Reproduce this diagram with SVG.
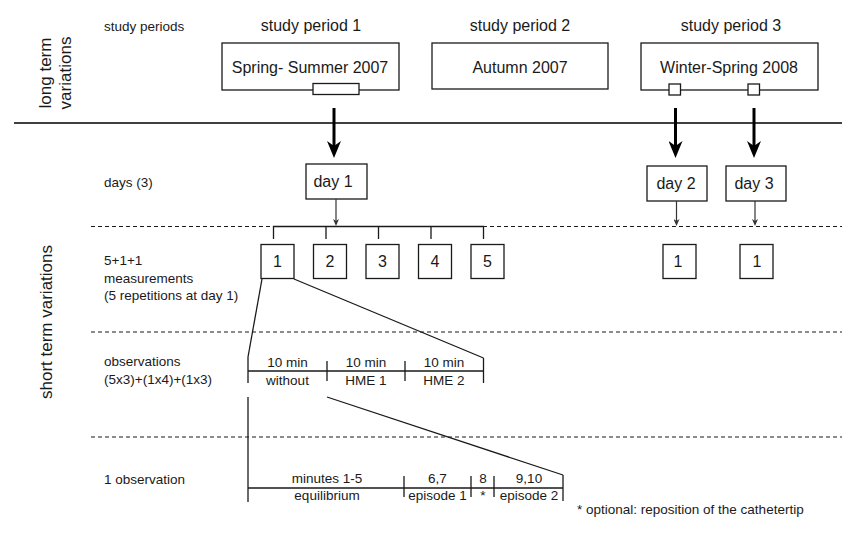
<svg xmlns="http://www.w3.org/2000/svg" width="842" height="533" viewBox="0 0 842 533">
<style>
text{font-family:"Liberation Sans",Arial,sans-serif;fill:#1a1a1a}
.lbl{font-size:13.5px}
.big{font-size:16px}
.side{font-size:17px;text-anchor:middle}
.mid{text-anchor:middle}
.box{fill:#fff;stroke:#1a1a1a;stroke-width:1.3}
.ln{stroke:#1a1a1a;stroke-width:1.3;fill:none}
.dash{stroke:#1a1a1a;stroke-width:1.2;stroke-dasharray:4 3;fill:none}
.thick{stroke:#000;stroke-width:3;fill:none}
.thin{stroke:#333;stroke-width:1.2;fill:none}
</style>
<defs>
<marker id="bigArrow" viewBox="0 0 17 14" refX="9" refY="7" markerWidth="17" markerHeight="14" markerUnits="userSpaceOnUse" orient="auto">
<path d="M0,0 L5,7 L0,14 L17,7 Z" fill="#000"/>
</marker>
<marker id="smallArrow" viewBox="0 0 7 6" refX="4" refY="3" markerWidth="7" markerHeight="6" markerUnits="userSpaceOnUse" orient="auto">
<path d="M0,0 L2,3 L0,6 L7,3 Z" fill="#333"/>
</marker>
</defs>

<!-- side labels -->
<g id="side-labels">
<text class="side" transform="translate(51,73) rotate(-90)">long term</text>
<text class="side" transform="translate(71,73) rotate(-90)">variations</text>
<text class="side" transform="translate(52,322) rotate(-90)">short term variations</text>
</g>

<g id="row-labels">
<text class="lbl" x="104" y="31">study periods</text>
<text class="lbl" x="104" y="187">days (3)</text>
<text class="lbl" x="104" y="265">5+1+1</text>
<text class="lbl" x="104" y="283">measurements</text>
<text class="lbl" x="104" y="300">(5 repetitions at day 1)</text>
<text class="lbl" x="104" y="366">observations</text>
<text class="lbl" x="104" y="384">(5x3)+(1x4)+(1x3)</text>
<text class="lbl" x="104" y="484">1 observation</text>
<text class="lbl" x="577" y="514">* optional: reposition of the cathetertip</text>
</g>

<!-- separators -->
<g id="separators">
<line x1="14" y1="123" x2="842" y2="123" stroke="#000" stroke-width="1.6"/>
<line class="dash" x1="91" y1="226.5" x2="842" y2="226.5"/>
<line class="dash" x1="91" y1="332" x2="842" y2="332"/>
<line class="dash" x1="91" y1="437" x2="842" y2="437"/>
</g>

<!-- study periods -->
<g id="period1">
<text class="big mid" x="311" y="31">study period 1</text>
<rect class="box" x="222" y="43" width="177" height="47"/>
<text class="big mid" x="310" y="73">Spring- Summer 2007</text>
<rect class="box" x="313" y="83.5" width="46" height="11"/>
</g>
<g id="period2">
<text class="big mid" x="520" y="31">study period 2</text>
<rect class="box" x="432" y="43" width="176" height="46"/>
<text class="big mid" x="520" y="73">Autumn 2007</text>
</g>
<g id="period3">
<text class="big mid" x="731" y="31">study period 3</text>
<rect class="box" x="641" y="43" width="177" height="47"/>
<text class="big mid" x="729" y="73">Winter-Spring 2008</text>
<rect class="box" x="669" y="84" width="11.5" height="11"/>
<rect class="box" x="748" y="84" width="11.5" height="11"/>
</g>

<!-- days -->
<g id="day1">
<rect class="box" x="306" y="164" width="61" height="35"/>
<text class="big mid" x="333" y="187">day 1</text>
</g>
<g id="day2">
<rect class="box" x="647" y="166" width="60" height="35"/>
<text class="big mid" x="676" y="189">day 2</text>
</g>
<g id="day3">
<rect class="box" x="726" y="166" width="60" height="35"/>
<text class="big mid" x="754" y="189">day 3</text>
</g>

<!-- measurements -->
<g id="m1"><rect class="box" x="261" y="244.5" width="33" height="34"/><text class="big mid" x="277.5" y="267">1</text></g>
<g id="m2"><rect class="box" x="313.5" y="244.5" width="33" height="34"/><text class="big mid" x="330" y="267">2</text></g>
<g id="m3"><rect class="box" x="366" y="244.5" width="33" height="34"/><text class="big mid" x="382.5" y="267">3</text></g>
<g id="m4"><rect class="box" x="418.5" y="244.5" width="33" height="34"/><text class="big mid" x="435" y="267">4</text></g>
<g id="m5"><rect class="box" x="471" y="244.5" width="33" height="34"/><text class="big mid" x="487.5" y="267">5</text></g>
<g id="m6"><rect class="box" x="663" y="244.5" width="33" height="34"/><text class="big mid" x="678" y="267">1</text></g>
<g id="m7"><rect class="box" x="740" y="244.5" width="33" height="34"/><text class="big mid" x="757" y="267">1</text></g>

<!-- connectors -->
<g id="connectors">
<line class="thick" x1="334" y1="108" x2="334" y2="150" marker-end="url(#bigArrow)"/>
<line class="thick" x1="675.5" y1="108" x2="675.5" y2="150" marker-end="url(#bigArrow)"/>
<line class="thick" x1="754" y1="108" x2="754" y2="150" marker-end="url(#bigArrow)"/>
<line class="thin" x1="336" y1="199" x2="336" y2="223" marker-end="url(#smallArrow)"/>
<line class="thin" x1="676.5" y1="201" x2="676.5" y2="223" marker-end="url(#smallArrow)"/>
<line class="thin" x1="755" y1="201" x2="755" y2="223" marker-end="url(#smallArrow)"/>
<path class="ln" d="M273.5,239 V226.5 H483.5 V239 M326,226.5 V239 M378.5,226.5 V239 M431,226.5 V239"/>
<!-- zoom lines from measurement 1 -->
<line class="ln" x1="262" y1="279" x2="248" y2="357"/>
<line class="ln" x1="294" y1="279" x2="483.5" y2="358"/>
<!-- zoom lines from observation -->
<line class="ln" x1="248" y1="397" x2="248" y2="502"/>
<line class="ln" x1="327" y1="397" x2="563" y2="475"/>
</g>

<!-- observations timeline -->
<g id="observations">
<path class="ln" d="M248,357 V383 M248,371 H483.5 M483.5,358 V383 M327,361 V381 M405,361 V381"/>
<text class="lbl mid" x="287.5" y="367">10 min</text>
<text class="lbl mid" x="287.5" y="385">without</text>
<text class="lbl mid" x="366" y="367">10 min</text>
<text class="lbl mid" x="366" y="385">HME 1</text>
<text class="lbl mid" x="444" y="367">10 min</text>
<text class="lbl mid" x="444" y="385">HME 2</text>
</g>

<!-- one observation timeline -->
<g id="one-observation">
<path class="ln" d="M248,488 H563 M563,475 V501 M404,476 V497 M471,476 V497 M494,476 V497"/>
<text class="lbl mid" x="327" y="483">minutes 1-5</text>
<text class="lbl mid" x="327" y="500">equilibrium</text>
<text class="lbl mid" x="437.5" y="483">6,7</text>
<text class="lbl mid" x="437.5" y="500">episode 1</text>
<text class="lbl mid" x="483" y="483">8</text>
<text class="lbl mid" x="483" y="500">*</text>
<text class="lbl mid" x="529" y="483">9,10</text>
<text class="lbl mid" x="529" y="500">episode 2</text>
</g>
</svg>
